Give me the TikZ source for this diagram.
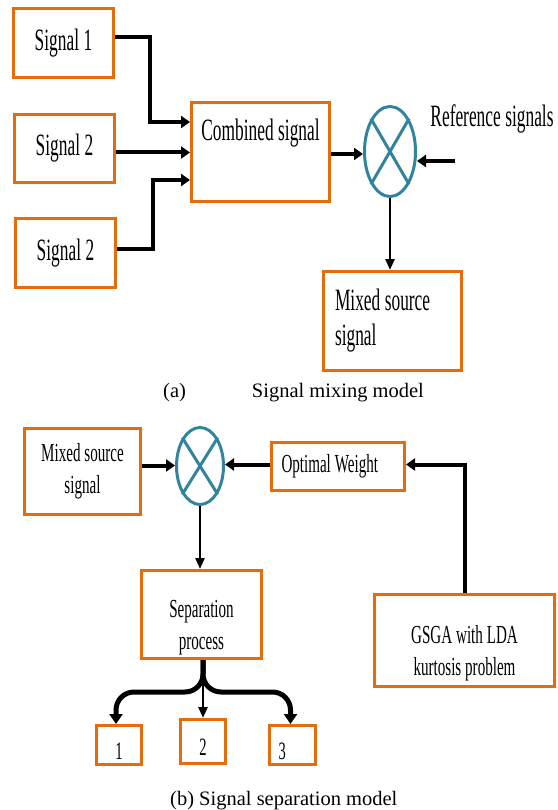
\documentclass[tikz,border=0pt]{standalone}
\usepackage{fontspec}
\setmainfont{Liberation Serif}
\newfontfamily\condfont[FakeStretch=0.56]{Liberation Serif}
\newfontfamily\semicondfont[FakeStretch=0.58]{Liberation Serif}
\usetikzlibrary{arrows.meta,calc,shapes.geometric}
\definecolor{boxorange}{RGB}{228,108,10}
\definecolor{mixteal}{RGB}{49,132,155}
\newcommand\bigfont{\condfont\fontsize{31}{35}\selectfont\spaceskip=4.5pt\relax}
\newcommand\smlfont{\semicondfont\fontsize{26}{32}\selectfont\spaceskip=3.9pt\relax}
\newcommand\lowstrut{\rule{0pt}{44pt}}
\tikzset{blk/.style={draw=boxorange,line width=3pt,inner sep=0pt,align=center},
	bigtxt/.style={font=\bigfont},
	smltxt/.style={font=\smlfont},
	digit/.style={blk,font=\semicondfont\fontsize{25}{28}\selectfont,text height=28pt,text depth=0pt},
	mix/.style={ellipse,draw=mixteal,line width=3pt,inner sep=0pt},
	crs/.style={draw=mixteal,line width=3pt},
	thk/.style={line width=4pt,-{Triangle[length=9pt,width=12pt]}},
	thn/.style={line width=2.5pt,-{Triangle[length=11pt,width=9pt]}},
	fat/.style={line width=5pt,rounded corners=18pt,-{Triangle[length=10pt,width=13pt]}},
	capt/.style={font=\fontsize{20.5}{24}\selectfont,inner sep=0pt}}

\begin{document}
\begin{tikzpicture}[x=1pt,y=-1pt]
\useasboundingbox (0,0) rectangle (557,810);

\node[blk,bigtxt,minimum width=100pt,minimum height=69pt] (sig1) at (63.5,43) {Signal 1};
\node[blk,bigtxt,minimum width=100pt,minimum height=68pt] (sig2) at (64.5,148.5) {Signal 2};
\node[blk,bigtxt,minimum width=100pt,minimum height=69pt] (sig3) at (65.5,253) {Signal 2};
\node[blk,bigtxt,minimum width=138pt,inner ysep=8pt,text height=30pt,text depth=53pt] (comb) at (260.5,152) {Combined signal};
\node[mix,minimum width=51pt,minimum height=90pt] (mixA) at (390,151.5) {};
\draw[crs] (mixA.north west) -- (mixA.south east) (mixA.north east) -- (mixA.south west);
\node[bigtxt,inner sep=0pt] (refTxt) at (492,119) {Reference signals};
\coordinate (refIn) at (455,161);
\node[blk,bigtxt,align=left,inner xsep=11.5pt,minimum height=99pt] (srcA) at (392.5,321) {\makebox[115pt][l]{Mixed source}\\signal};

\draw[thk] ([yshift=6pt]sig1.east) -- ++(35,0) |- ([yshift=30pt]comb.west);
\draw[thk] ([yshift=-4pt]sig2.east) -- ([yshift=-4pt]sig2.east -| comb.west);
\draw[thk] ([yshift=4pt]sig3.east) -- ++(36,0) |- ([yshift=-28pt]comb.west);
\draw[thk] ([yshift=-2pt]comb.east) -- ([yshift=-2pt]comb.east -| mixA.west);
\draw[thk] (refIn) -- (refIn -| mixA.east);
\draw[thn] (mixA.south) -- (mixA.south |- srcA.north);

\node[capt,anchor=base west] (capA) at (163,397) {(a)\hspace*{66pt}Signal mixing model};

\node[blk,smltxt,minimum width=116pt,minimum height=86pt] (srcB) at (82.5,471.5) {Mixed source\\signal};
\node[mix,minimum width=47pt,minimum height=77pt] (mixB) at (200,466) {};
\draw[crs] (mixB.north west) -- (mixB.south east) (mixB.north east) -- (mixB.south west);
\node[blk,smltxt,inner xsep=10pt,minimum height=48pt] (optW) at (338,466.5) {\makebox[113pt][l]{Optimal Weight}};
\node[blk,smltxt,minimum width=180pt,minimum height=92pt] (gsga) at (464.5,640.5) {\lowstrut GSGA with LDA\\kurtosis problem};
\node[blk,smltxt,minimum width=120pt,minimum height=88pt] (sep) at (201.5,614.5) {\lowstrut Separation\\process};
\node[digit,minimum width=45pt,minimum height=39pt] (o1) at (119,745) {1};
\node[digit,minimum width=45pt,minimum height=44pt] (o2) at (203,741.5) {2};
\node[digit,minimum width=46pt,minimum height=39pt] (o3) at (292.5,745) {\makebox[28pt][l]{3}};

\draw[thk] ([yshift=6pt]srcB.east) -- ([yshift=6pt]srcB.east -| mixB.west);
\draw[thk] ([yshift=2pt]optW.west) -- ([yshift=2pt]optW.west -| mixB.east);
\draw[thk] (gsga.north) |- ([yshift=2pt]optW.east);
\draw[thn] (mixB.south) -- (mixB.south |- sep.north);
\draw[thn] ([xshift=1.5pt]sep.south) -- ([xshift=1.5pt]sep.south |- o2.north);
\draw[fat] ([xshift=1.5pt]sep.south) |- ([xshift=-3pt,yshift=32pt]o1.north) -- ([xshift=-3pt]o1.north);
\draw[fat] ([xshift=1.5pt]sep.south) |- ([xshift=-2pt,yshift=32pt]o3.north) -- ([xshift=-2pt]o3.north);

\node[capt,anchor=base west] (capB) at (170,805) {(b) Signal separation model};
\end{tikzpicture}
\end{document}
